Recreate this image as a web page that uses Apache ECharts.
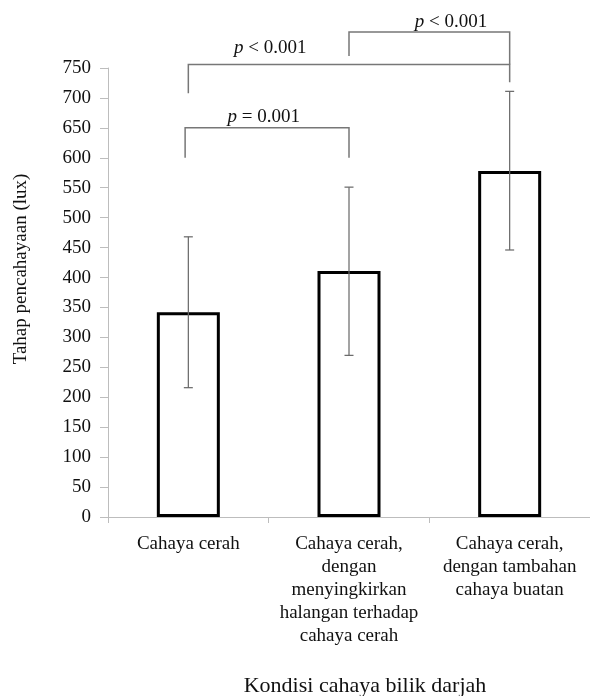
<!DOCTYPE html>
<html>
<head>
<meta charset="utf-8">
<script src="https://cdn.jsdelivr.net/npm/echarts@6/dist/echarts.min.js"></script>
<style>html,body{margin:0;padding:0;background:#fff}#c{width:590px;height:696px}</style>
</head>
<body>
<div id="c"></div>
<script>
const categories = ["Cahaya cerah", "Cahaya cerah,\ndengan\nmenyingkirkan\nhalangan terhadap\ncahaya cerah", "Cahaya cerah,\ndengan tambahan\ncahaya buatan"];
const means = [342, 411, 578];
const errLow = [216, 270, 446];
const errHigh = [468, 551, 711];
const yTicks = { min: 0, max: 750, interval: 50 };
// brackets: start x, end x (category index units), top y, left leg end y, right leg end y
const bracketX1 = [-0.02, 0, 1];
const bracketX2 = [1, 2, 2];
const bracketTop = [650, 756, 810];
const bracketLegL = [600, 708, 770];
const bracketLegR = [600, 726, 756];
const pLabels = ["= 0.001", "< 0.001", "< 0.001"];
const pLabelX = [0.47, 0.51, 1.635];
const pLabelY = [668, 783, 827];

const FONT = '"Liberation Serif", "Times New Roman", serif';
const chart = echarts.init(document.getElementById('c'));

const bracketData = bracketX1.map((x, i) => [x, bracketX2[i], bracketTop[i], bracketLegL[i], bracketLegR[i]]);
const labelData = pLabelX.map((x, i) => [x, pLabelY[i], pLabels[i]]);
const errData = means.map((m, i) => [i, errLow[i], errHigh[i]]);

chart.setOption({
  animation: false,
  backgroundColor: '#fff',
  grid: { left: 108, top: 68, width: 485, bottom: 179 },
  xAxis: [{
    type: 'category',
    data: categories,
    boundaryGap: true,
    axisLine: { onZero: false, lineStyle: { color: '#bdbdbd', width: 1 } },
    axisTick: { show: true, length: 6, lineStyle: { color: '#bdbdbd' } },
    axisLabel: { interval: 0, fontFamily: FONT, fontSize: 19, color: '#111', lineHeight: 23, margin: 16 }
  }, {
    type: 'value', min: -0.5, max: 2.5, show: false
  }],
  yAxis: {
    type: 'value',
    min: yTicks.min, max: yTicks.max, interval: yTicks.interval,
    splitLine: { show: false },
    axisLine: { show: true, onZero: false, lineStyle: { color: '#bdbdbd', width: 1 } },
    axisTick: { show: true, length: 8, lineStyle: { color: '#bdbdbd' } },
    axisLabel: { fontFamily: FONT, fontSize: 19, color: '#111', margin: 17 }
  },
  graphic: [
    { type: 'text', x: 21, y: 269, rotation: Math.PI / 2,
      style: { text: 'Tahap pencahayaan (lux)', font: '19px ' + FONT, fill: '#111', textAlign: 'center', textVerticalAlign: 'middle' } },
    { type: 'text', x: 365, y: 686,
      style: { text: 'Kondisi cahaya bilik darjah', font: '22px ' + FONT, fill: '#111', textAlign: 'center', textVerticalAlign: 'middle' } }
  ],
  series: [{
    type: 'bar',
    data: means,
    barWidth: 63,
    itemStyle: { color: '#fff', borderColor: '#000', borderWidth: 3 },
    z: 2
  }, {
    type: 'custom',
    data: errData,
    z: 3,
    renderItem: function (params, api) {
      const x = api.value(0);
      const lo = api.coord([x, api.value(1)]);
      const hi = api.coord([x, api.value(2)]);
      const cap = 4.5;
      const st = { stroke: '#666', lineWidth: 1.2 };
      return { type: 'group', children: [
        { type: 'line', shape: { x1: lo[0], y1: lo[1], x2: hi[0], y2: hi[1] }, style: st },
        { type: 'line', shape: { x1: lo[0] - cap, y1: lo[1], x2: lo[0] + cap, y2: lo[1] }, style: st },
        { type: 'line', shape: { x1: hi[0] - cap, y1: hi[1], x2: hi[0] + cap, y2: hi[1] }, style: st }
      ]};
    }
  }, {
    type: 'custom',
    xAxisIndex: 1,
    data: bracketData,
    clip: false,
    z: 4,
    renderItem: function (params, api) {
      const a = api.coord([api.value(0), api.value(2)]);
      const b = api.coord([api.value(1), api.value(2)]);
      const l = api.coord([api.value(0), api.value(3)]);
      const r = api.coord([api.value(1), api.value(4)]);
      return { type: 'polyline', shape: { points: [l, a, b, r] },
        style: { stroke: '#777', lineWidth: 1.5, fill: null } };
    }
  }, {
    type: 'custom',
    xAxisIndex: 1,
    data: labelData,
    clip: false,
    z: 5,
    renderItem: function (params, api) {
      const p = api.coord([api.value(0), api.value(1)]);
      return { type: 'text', x: p[0], y: p[1], style: {
        text: '{i|p} ' + labelData[params.dataIndex][2],
        font: '19px ' + FONT, fill: '#111', align: 'center', verticalAlign: 'middle',
        rich: { i: { fontStyle: 'italic', fontFamily: FONT, fontSize: 19, fill: '#111' } }
      } };
    }
  }]
});
</script>
</body>
</html>
